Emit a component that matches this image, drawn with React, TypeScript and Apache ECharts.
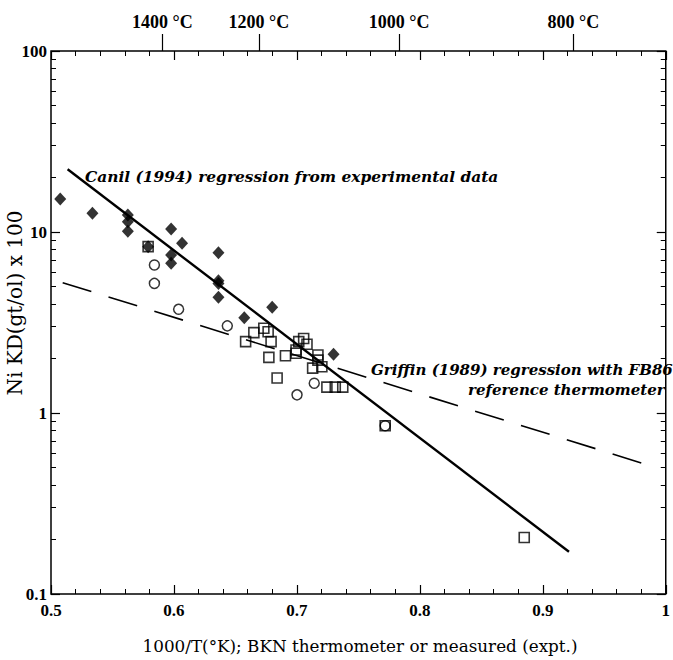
import React, { useEffect, useRef } from "react";
import * as echarts from "echarts";

// Ni partitioning data
const canilDiamonds: [number, number][] = [
  [0.5075, 15.2], [0.5337, 12.7], [0.5625, 12.4], [0.5625, 11.4], [0.5625, 10.1],
  [0.579, 8.3], [0.5977, 10.4], [0.5977, 7.46], [0.5977, 6.71], [0.6066, 8.66],
  [0.6362, 7.69], [0.6362, 5.38], [0.6362, 5.2], [0.6362, 4.36], [0.6572, 3.36],
  [0.6799, 3.84], [0.7298, 2.11],
];
const openCircles: [number, number][] = [
  [0.5841, 6.57], [0.5841, 5.2], [0.6038, 3.74], [0.6434, 3.03],
  [0.7141, 1.46], [0.7001, 1.26], [0.7718, 0.85],
];
const openSquares: [number, number][] = [
  [0.579, 8.3], [0.6583, 2.48], [0.665, 2.78], [0.6731, 2.94], [0.6766, 2.81],
  [0.679, 2.48], [0.6772, 2.03], [0.6839, 1.56], [0.6907, 2.07], [0.6993, 2.14],
  [0.7015, 2.48], [0.7055, 2.58], [0.7082, 2.4], [0.6993, 2.23], [0.7128, 1.77],
  [0.7171, 2.09], [0.7171, 1.96], [0.7203, 1.8], [0.7244, 1.39], [0.7312, 1.39],
  [0.7373, 1.39], [0.7718, 0.85], [0.8849, 0.205],
];
const canilLine: [number, number][] = [[0.5135, 22.2], [0.9213, 0.171]];
const griffinLine: [number, number][] = [[0.5095, 5.25], [0.988, 0.51]];

const tempPositions = [0.5906, 0.6691, 0.7832, 0.9248];
const tempLabels = ["1400 °C", "1200 °C", "1000 °C", "800 °C"];
const yMinorValues = [0.2, 0.3, 0.4, 0.5, 0.6, 0.7, 0.8, 0.9, 2, 3, 4, 5, 6, 7, 8, 9, 20, 30, 40, 50, 60, 70, 80, 90];

const SERIF = '"Liberation Serif", "DejaVu Serif", serif';
const WIDE = '"DejaVu Serif", "Liberation Serif", serif';

export default function App() {
  const ref = useRef<HTMLDivElement>(null);
  useEffect(() => {
    if (!ref.current) return;
    const chart = echarts.init(ref.current, undefined, { renderer: "svg" });
    const noLine = { show: false, onZero: false };
    const logMinor = yMinorValues.map((v) => Math.log10(v));
    const majorTick = { show: true, inside: true, length: 9, lineStyle: { color: "#000", width: 1.2 } };
    const minorTickStyle = { color: "#000", width: 1 };
    chart.setOption({
      animation: false,
      backgroundColor: "#fff",
      grid: { left: 51, right: 5, top: 51, bottom: 66, show: true, borderColor: "#000", borderWidth: 1.5, backgroundColor: "transparent" },
      xAxis: [
        {
          type: "value", position: "bottom", min: 0.5, max: 1, interval: 0.1,
          axisLine: noLine, splitLine: { show: false }, axisTick: majorTick,
          minorTick: { show: true, splitNumber: 5, length: 5, lineStyle: minorTickStyle },
          axisLabel: { color: "#000", fontFamily: SERIF, fontWeight: "bold", fontSize: 17, margin: 8,
            formatter: (v: number) => (v === 1 ? "1" : v.toFixed(1)) },
        },
        {
          type: "value", position: "top", min: 0.5, max: 1, interval: 0.1,
          axisLine: noLine, splitLine: { show: false }, axisTick: majorTick,
          minorTick: { show: true, splitNumber: 5, length: 5, lineStyle: minorTickStyle },
          axisLabel: { show: false },
        },
        {
          type: "value", position: "top", min: 0.5, max: 1,
          axisLine: noLine, splitLine: { show: false },
          axisTick: { show: true, inside: false, length: 17, customValues: tempPositions, lineStyle: { color: "#000", width: 1.2 } },
          axisLabel: {
            show: true, customValues: tempPositions, color: "#000", fontFamily: SERIF, fontWeight: "bold", fontSize: 18, margin: 20,
            formatter: (v: number) => {
              let best = 0;
              tempPositions.forEach((p, i) => { if (Math.abs(p - v) < Math.abs(tempPositions[best] - v)) best = i; });
              return tempLabels[best];
            },
          },
        },
      ],
      yAxis: [
        {
          type: "log", logBase: 10, position: "left", min: 0.1, max: 100,
          axisLine: noLine, splitLine: { show: false }, axisTick: majorTick,
          axisLabel: { color: "#000", fontFamily: SERIF, fontWeight: "bold", fontSize: 17, margin: 4,
            formatter: (v: number) => String(v) },
        },
        {
          type: "value", position: "left", min: -1, max: 2,
          axisLine: noLine, splitLine: { show: false },
          axisTick: { show: true, inside: true, length: 5, customValues: logMinor, lineStyle: minorTickStyle },
          axisLabel: { show: false },
        },
        {
          type: "log", logBase: 10, position: "right", min: 0.1, max: 100,
          axisLine: noLine, splitLine: { show: false }, axisTick: majorTick,
          axisLabel: { show: false },
        },
        {
          type: "value", position: "right", min: -1, max: 2,
          axisLine: noLine, splitLine: { show: false },
          axisTick: { show: true, inside: true, length: 5, customValues: logMinor, lineStyle: minorTickStyle },
          axisLabel: { show: false },
        },
      ],
      series: [
        {
          type: "line", data: griffinLine, symbol: "none", xAxisIndex: 0, yAxisIndex: 0,
          lineStyle: { color: "#000", width: 1.6, type: [30, 18] }, z: 2,
        },
        {
          type: "line", data: canilLine, symbol: "none", xAxisIndex: 0, yAxisIndex: 0,
          lineStyle: { color: "#000", width: 2.4 }, z: 2,
        },
        {
          type: "scatter", data: openCircles, symbol: "circle", symbolSize: 10, xAxisIndex: 0, yAxisIndex: 0,
          itemStyle: { color: "#fff", borderColor: "#000", borderWidth: 1.5 }, z: 3,
        },
        {
          type: "scatter", data: openSquares, symbol: "rect", symbolSize: 10, xAxisIndex: 0, yAxisIndex: 0,
          itemStyle: { color: "rgba(255,255,255,0)", borderColor: "#000", borderWidth: 1.6 }, z: 4,
        },
        {
          type: "scatter", data: canilDiamonds, symbol: "diamond", symbolSize: [12, 13], xAxisIndex: 0, yAxisIndex: 0,
          itemStyle: { color: "#000" }, z: 5,
        },
      ],
      graphic: [
        { type: "text", left: 85, top: 169, style: { text: "Canil (1994) regression from experimental data", font: `italic bold 15.4px ${WIDE}`, fill: "#000" } },
        { type: "text", left: 371, top: 362, style: { text: "Griffin (1989) regression with FB86", font: `italic bold 15px ${WIDE}`, fill: "#000" } },
        { type: "text", left: 468, top: 382, style: { text: "reference thermometer", font: `italic bold 15px ${WIDE}`, fill: "#000" } },
        { type: "text", x: 360, y: 646, style: { text: "1000/T(°K); BKN thermometer or measured (expt.)", font: `16.8px ${WIDE}`, fill: "#000", align: "center", verticalAlign: "middle" } },
        { type: "text", x: 15, y: 303, rotation: Math.PI / 2, style: { text: "Ni KD(gt/ol) x 100", font: `20px ${WIDE}`, fill: "#000", align: "center", verticalAlign: "middle" } },
      ],
    });
    return () => chart.dispose();
  }, []);
  return <div ref={ref} style={{ position: "fixed", left: 0, top: 0, width: 673, height: 660 }} />;
}
